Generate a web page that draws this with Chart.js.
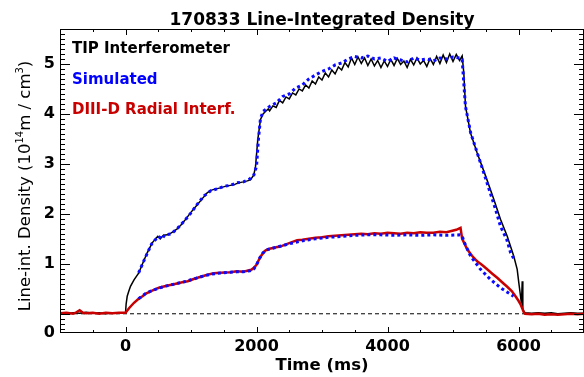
<!DOCTYPE html>
<html>
<head>
<meta charset="utf-8">
<script src="https://cdn.jsdelivr.net/npm/chart.js@4.4.0/dist/chart.umd.min.js"></script>
<style>
  html, body { margin: 0; padding: 0; background: #fff; }
  #wrap { width: 584px; height: 377px; }
</style>
</head>
<body>
<div id="wrap"><canvas id="density"></canvas></div>
<script>
/* --------------- Axis ranges and ticks --------------------- */
const xMin = -1000, xMax = 7000;
const yMin = -0.385, yMax = 5.7;
const xTicks = [0, 2000, 4000, 6000];
const yTicks = [0, 1, 2, 3, 4, 5];

/* --------------- TIP Interferometer (black) --------------------- */
const tipTime = [-1000, -900, -800, -700, -600, -500, -400, -300, -200, -100, -40, 0,
  10, 26, 50, 76, 130, 203, 260, 331, 408, 460, 493, 530, 580, 640, 700, 789, 850, 900,
  992, 1095, 1170, 1247, 1300, 1380, 1450, 1520, 1600, 1653, 1720, 1800, 1860, 1908, 1959, 1985,
  2020, 2061, 2100, 2137, 2180, 2200, 2250, 2300, 2350, 2400, 2450, 2500, 2550, 2600, 2650,
  2700, 2750, 2800, 2850, 2900, 2950, 3000, 3050, 3100, 3150, 3200, 3250, 3300, 3350, 3400,
  3450, 3500, 3550, 3600, 3650, 3700, 3750, 3800, 3850, 3900, 3950, 4000, 4050, 4100, 4150,
  4200, 4250, 4300, 4350, 4400, 4450, 4500, 4550, 4600, 4650, 4700, 4750, 4800, 4850, 4900,
  4950, 5000, 5050, 5100, 5140, 5165, 5191, 5267, 5369, 5500, 5623, 5725, 5828, 5928, 5980,
  6005, 6031, 6045, 6057, 6066, 6081, 6100, 6200, 6300, 6400, 6500, 6600, 6700, 6800, 6900, 7000];
const tipValue = [0.02, 0.00, 0.02, 0.01, 0.03, 0.01, 0.02, 0.00, 0.02, 0.01, 0.02, 0.02,
  0.20, 0.35, 0.45, 0.55, 0.68, 0.82, 1.00, 1.22, 1.42, 1.50, 1.55, 1.50, 1.57, 1.58, 1.62, 1.70, 1.78, 1.86,
  2.02, 2.18, 2.30, 2.42, 2.47, 2.50, 2.52, 2.55, 2.57, 2.58, 2.62, 2.64, 2.66, 2.68, 2.78, 2.95,
  3.49, 3.89, 4.00, 4.05, 4.10, 4.06, 4.16, 4.13, 4.27, 4.22, 4.34, 4.30, 4.42, 4.38, 4.50,
  4.46, 4.58, 4.52, 4.66, 4.60, 4.74, 4.68, 4.82, 4.74, 4.88, 4.80, 4.94, 4.88, 5.03, 4.94,
  5.12, 4.99, 5.14, 5.01, 5.12, 4.97, 5.10, 4.96, 5.07, 4.93, 5.06, 4.95, 5.09, 4.97, 5.11,
  4.99, 5.06, 4.93, 5.09, 4.98, 5.12, 5.00, 5.07, 4.95, 5.11, 4.99, 5.15, 5.01, 5.18, 5.03,
  5.20, 5.05, 5.19, 5.07, 5.16, 4.82, 4.15, 3.62, 3.22, 2.75, 2.29, 1.89, 1.55, 1.15, 0.89,
  0.62, 0.35, 0.20, 0.65, 0.10, 0.05, 0.02, 0.01, 0.02, 0.01, 0.02, 0.00, 0.01, 0.02, 0.01, 0.01];

/* --------------- DIII-D Radial Interferometer (red) --------------------- */
const radTime = [-1000, -900, -800, -750, -700, -650, -600, -500, -400, -300, -200, -100, 0,
  60, 130, 200, 260, 320, 380, 450, 510, 600, 700, 740, 800, 900, 950, 1050, 1150, 1250, 1350,
  1450, 1600, 1700, 1800, 1860, 1920, 1960, 2000, 2040, 2090, 2140, 2200, 2300, 2370, 2450,
  2550, 2620, 2700, 2800, 2900, 3000, 3100, 3200, 3300, 3400, 3500, 3600, 3700, 3800, 3900,
  4000, 4100, 4200, 4300, 4400, 4500, 4600, 4700, 4800, 4900, 4960, 5050, 5115, 5140, 5217,
  5290, 5369, 5450, 5522, 5600, 5675, 5750, 5828, 5900, 5954, 6000, 6031, 6060, 6081, 6100,
  6200, 6300, 6400, 6500, 6600, 6700, 6800, 6900, 7000];
const radValue = [0.01, 0.02, 0.00, 0.03, 0.07, 0.02, 0.01, 0.02, 0.00, 0.02, 0.01, 0.02, 0.02,
  0.12, 0.22, 0.30, 0.35, 0.41, 0.45, 0.49, 0.52, 0.55, 0.58, 0.59, 0.61, 0.64, 0.65, 0.70, 0.74, 0.78, 0.81,
  0.82, 0.83, 0.85, 0.84, 0.86, 0.88, 0.92, 0.98, 1.09, 1.20, 1.27, 1.30, 1.33, 1.35, 1.39,
  1.44, 1.47, 1.48, 1.50, 1.52, 1.53, 1.55, 1.56, 1.57, 1.58, 1.59, 1.60, 1.59, 1.61, 1.60,
  1.62, 1.61, 1.60, 1.62, 1.61, 1.63, 1.62, 1.62, 1.64, 1.63, 1.65, 1.68, 1.72, 1.50, 1.29,
  1.16, 1.05, 0.97, 0.89, 0.80, 0.72, 0.63, 0.54, 0.45, 0.35, 0.26, 0.19, 0.10, 0.03, 0.00,
  -0.01, 0.00, -0.02, -0.01, -0.02, -0.01, 0.00, -0.01, 0.00];

/* --------------- Simulated (blue, dotted) --------------------- */
const simTipTime = [200, 300, 400, 500, 560, 600, 700, 800, 900, 1000, 1100, 1200, 1300, 1400,
  1500, 1600, 1700, 1800, 1900, 1960, 2000, 2030, 2060, 2100, 2200, 2300, 2400, 2500, 2600,
  2700, 2800, 2900, 3000, 3100, 3200, 3300, 3400, 3500, 3600, 3700, 3800, 3900, 4000, 4100,
  4200, 4300, 4400, 4500, 4600, 4700, 4800, 4900, 5000, 5100, 5140, 5165, 5190, 5270, 5370,
  5500, 5650, 5725, 5820, 5880, 5930];
const simTipValue = [0.82, 1.12, 1.40, 1.55, 1.50, 1.58, 1.60, 1.72, 1.86, 2.02, 2.20, 2.36, 2.46, 2.50,
  2.55, 2.57, 2.62, 2.64, 2.70, 2.78, 2.95, 3.50, 3.90, 4.05, 4.15, 4.22, 4.35, 4.40, 4.52,
  4.58, 4.70, 4.78, 4.85, 4.90, 4.98, 5.02, 5.10, 5.15, 5.12, 5.16, 5.10, 5.12, 5.05, 5.12,
  5.08, 5.04, 5.12, 5.08, 5.10, 5.06, 5.12, 5.10, 5.14, 5.12, 5.09, 4.62, 4.15, 3.62, 3.22,
  2.70, 2.09, 1.75, 1.49, 1.22, 1.10];
const simRadTime = [200, 300, 400, 500, 600, 700, 800, 900, 1000, 1100, 1200, 1300, 1400, 1500,
  1600, 1700, 1800, 1900, 1960, 2000, 2050, 2100, 2150, 2300, 2500, 2700, 2900, 3100, 3300,
  3500, 3700, 3900, 4100, 4300, 4500, 4700, 4900, 5100, 5140, 5165, 5270, 5420, 5570, 5725,
  5880, 5925];
const simRadValue = [0.30, 0.40, 0.46, 0.51, 0.55, 0.58, 0.61, 0.64, 0.68, 0.72, 0.76, 0.79, 0.81, 0.82,
  0.83, 0.84, 0.84, 0.86, 0.90, 0.98, 1.12, 1.22, 1.28, 1.33, 1.40, 1.46, 1.50, 1.53, 1.55,
  1.57, 1.58, 1.58, 1.57, 1.58, 1.57, 1.58, 1.57, 1.58, 1.56, 1.45, 1.15, 0.89, 0.69, 0.52,
  0.39, 0.35];

/* --------------- Zero reference line --------------------- */
const zeroTime = [xMin, xMax];
const zeroValue = [0, 0];

const legendItems = [
  { text: "TIP Interferometer", color: "#000000" },
  { text: "Simulated", color: "#0000ff" },
  { text: "DIII-D Radial Interf.", color: "#c80000" },
];

const pairs = (t, v) => t.map((x, i) => ({ x: x, y: v[i] }));

/* --------------- Frame, inward ticks and texts --------------------- */
const framePlugin = {
  id: "frame",
  afterDraw(chart) {
    const { ctx, chartArea: a, scales: { x, y } } = chart;
    ctx.save();
    ctx.strokeStyle = "#000";
    ctx.lineWidth = 1;
    ctx.strokeRect(a.left + 0.5, a.top + 0.5, a.right - a.left - 1, a.bottom - a.top - 1);
    ctx.beginPath();
    for (let t = xMin; t <= xMax; t += 500) {
      const px = Math.round(x.getPixelForValue(t)) + 0.5;
      const len = t % 2000 === 0 ? 6 : 3;
      ctx.moveTo(px, a.bottom); ctx.lineTo(px, a.bottom - len);
      ctx.moveTo(px, a.top); ctx.lineTo(px, a.top + len);
    }
    for (let k = Math.ceil(yMin * 10); k <= Math.floor(yMax * 10); k++) {
      const py = Math.round(y.getPixelForValue(k / 10)) + 0.5;
      const len = k % 10 === 0 ? 10 : 5;
      ctx.moveTo(a.left, py); ctx.lineTo(a.left + len, py);
      ctx.moveTo(a.right, py); ctx.lineTo(a.right - len, py);
    }
    ctx.stroke();

    ctx.fillStyle = "#000";
    ctx.textBaseline = "alphabetic";
    ctx.textAlign = "center";
    ctx.font = 'bold 17px "DejaVu Sans"';
    ctx.fillText("170833 Line-Integrated Density", (a.left + a.right) / 2, 25);
    ctx.font = 'bold 16.5px "DejaVu Sans"';
    ctx.fillText("Time (ms)", (a.left + a.right) / 2, 370);

    ctx.textAlign = "left";
    ctx.font = 'bold 15px "DejaVu Sans"';
    legendItems.forEach((item, i) => {
      ctx.fillStyle = item.color;
      ctx.fillText(item.text, 72, 53 + i * 30.6);
    });

    // y title with superscripts
    const big = '16.5px "DejaVu Sans"', small = '10px "DejaVu Sans"';
    const parts = [
      { s: "Line-int. Density (10", f: big, up: 0 },
      { s: "14", f: small, up: 7 },
      { s: "m / cm", f: big, up: 0 },
      { s: "3", f: small, up: 7 },
      { s: ")", f: big, up: 0 },
    ];
    let total = 0;
    parts.forEach(p => { ctx.font = p.f; p.w = ctx.measureText(p.s).width; total += p.w; });
    ctx.fillStyle = "#000";
    ctx.translate(29.5, 186);
    ctx.rotate(-Math.PI / 2);
    let cx = -total / 2;
    parts.forEach(p => { ctx.font = p.f; ctx.fillText(p.s, cx, -p.up); cx += p.w; });
    ctx.restore();
  },
};

const line = (data, color, width, dash) => ({
  data: data,
  borderColor: color,
  borderWidth: width,
  borderDash: dash,
  pointRadius: 0,
  tension: 0,
  fill: false,
});

new Chart(document.getElementById("density"), {
  type: "line",
  data: {
    datasets: [
      line(pairs(simTipTime, simTipValue), "#0a0aff", 3, [3, 3]),
      line(pairs(simRadTime, simRadValue), "#0a0aff", 3, [3, 3]),
      line(pairs(radTime, radValue), "#c80000", 2.5, []),
      line(pairs(tipTime, tipValue), "#000000", 1.5, []),
      line(pairs(zeroTime, zeroValue), "#000000", 1, [4, 3]),
    ],
  },
  options: {
    responsive: true,
    maintainAspectRatio: false,
    animation: false,
    devicePixelRatio: 1,
    layout: { padding: { top: 29, right: 0, left: 0, bottom: 0 } },
    plugins: { legend: { display: false }, tooltip: { enabled: false }, title: { display: false } },
    scales: {
      x: {
        type: "linear",
        min: xMin,
        max: xMax,
        grid: { display: false, drawTicks: false },
        border: { display: false },
        afterBuildTicks: (axis) => { axis.ticks = xTicks.map(v => ({ value: v })); },
        afterFit: (s) => { s.height = 44; },
        ticks: {
          autoSkip: false, maxRotation: 0, padding: 4, color: "#000",
          font: { family: "DejaVu Sans", size: 16, weight: "bold" },
          callback: (v) => String(v),
        },
      },
      y: {
        type: "linear",
        min: yMin,
        max: yMax,
        grid: { display: false, drawTicks: false },
        border: { display: false },
        // the bottom "0" label sits on the axis floor, as in the original plot
        afterBuildTicks: (axis) => { axis.ticks = yTicks.map(v => ({ value: v === 0 ? yMin : v })); },
        afterFit: (s) => { s.width = 60; },
        ticks: {
          padding: 5, color: "#000",
          font: { family: "DejaVu Sans", size: 16, weight: "bold" },
          callback: (v) => (v === yMin ? "0" : String(v)),
        },
      },
    },
  },
  plugins: [framePlugin],
});
</script>
</body>
</html>
